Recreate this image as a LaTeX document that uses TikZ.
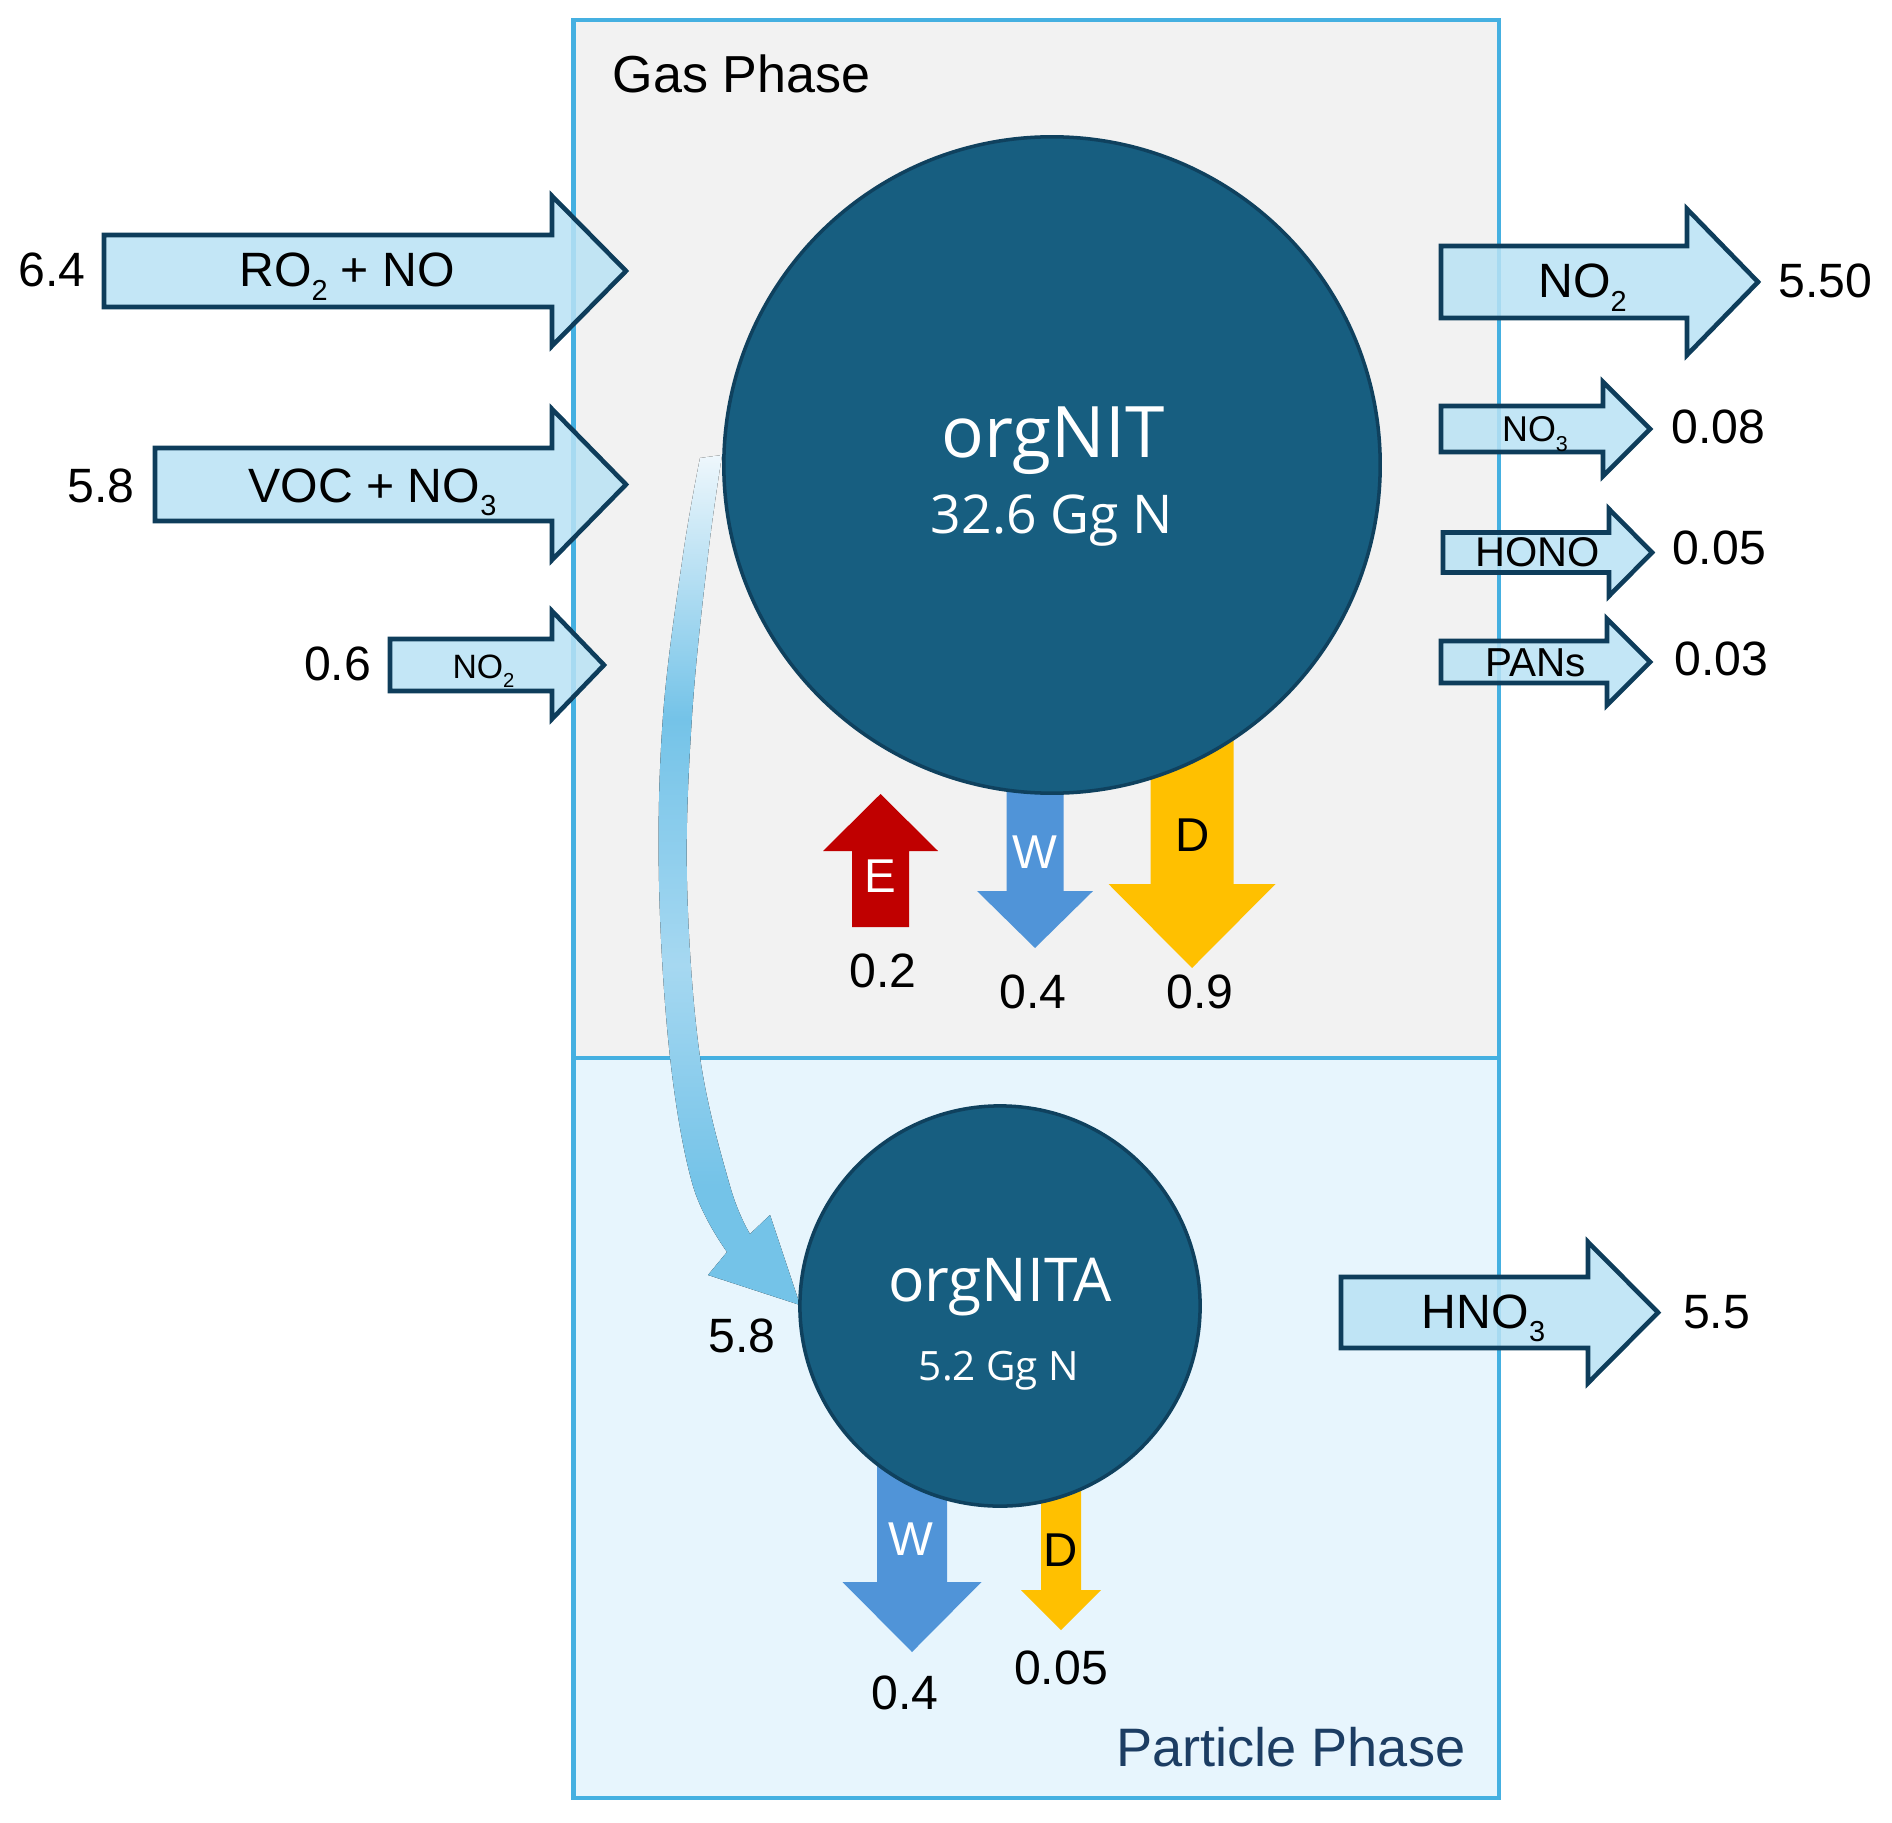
\documentclass[tikz,border=0pt]{standalone}
\usepackage{fontspec}
\setmainfont{Liberation Sans}
\newfontfamily\circfont{Open Sans}
\definecolor{gasbg}{HTML}{F2F2F2}
\definecolor{partbg}{HTML}{E7F5FD}
\definecolor{boxblue}{HTML}{45B0E1}
\definecolor{arrfill}{HTML}{B9E2F4}
\definecolor{arrline}{HTML}{0E3D5B}
\definecolor{circfill}{HTML}{175E80}
\definecolor{circline}{HTML}{0F415E}
\definecolor{ered}{HTML}{C00000}
\definecolor{wblue}{HTML}{5094D8}
\definecolor{dyel}{HTML}{FFC000}
\definecolor{ptext}{HTML}{1C3D63}
\definecolor{cA}{HTML}{74C3E8}
\definecolor{cB}{HTML}{A6D8F1}
\definecolor{cW}{HTML}{EEF7FC}
\pgfdeclareverticalshading{curvshade}{100bp}{color(0bp)=(cA); color(32bp)=(cA); color(45bp)=(cB); color(59.5bp)=(cA); color(75bp)=(cW); color(100bp)=(cW)}
\newcommand\chemsub[1]{\raisebox{-0.27em}{\scalebox{0.6}{#1}}}
% right-pointing block arrow: xleft, xbase, xtip, yc, bodyhalf, headhalf
\newcommand\myrarrow[6]{\draw[blockarrow] (#1,#4-#5) -- (#2,#4-#5) -- (#2,#4-#6) -- (#3,#4) -- (#2,#4+#6) -- (#2,#4+#5) -- (#1,#4+#5) -- cycle;}
% vertical arrow: xc, ystart, ybase, ytip, bodyhalf, headhalf, style
\newcommand\myvarrow[7]{\fill[#7] (#1-#5,#2) -- (#1+#5,#2) -- (#1+#5,#3) -- (#1+#6,#3) -- (#1,#4) -- (#1-#6,#3) -- (#1-#5,#3) -- cycle;}
\begin{document}
\begin{tikzpicture}[x=0.01cm,y=-0.01cm,
  blockarrow/.style={fill=arrfill, fill opacity=0.85, draw=arrline, line width=1.3pt, line join=miter},
  numlbl/.style={font=\fontsize{13.7}{16}\selectfont, inner sep=0pt, anchor=base},
  bigin/.style={numlbl},
  midin/.style={font=\fontsize{11.8}{14}\selectfont, inner sep=0pt, anchor=base},
  smallin/.style={font=\fontsize{9.6}{12}\selectfont, inner sep=0pt, anchor=base},
  flowlbl/.style={font=\fontsize{13.5}{16}\selectfont, inner sep=0pt, anchor=base},
  phaselbl/.style={font=\fontsize{14.8}{18}\selectfont, inner sep=0pt, anchor=base},
  pool/.style={circle, fill=circfill, draw=circline, line width=1pt, inner sep=0pt}]
\useasboundingbox (0,0) rectangle (1892,1822);
% phase backgrounds
\fill[gasbg] (573.5,20) rectangle (1499,1058);
\fill[partbg] (573.5,1058) rectangle (1499,1798);
\draw[boxblue, line width=1.4pt] (573.5,20) rectangle (1499,1798);
\draw[boxblue, line width=1.2pt] (573.5,1058) -- (1499,1058);
\node[phaselbl, anchor=base west] (gas) at (612,93) {Gas Phase};
\node[phaselbl, anchor=base east, text=ptext, font=\fontsize{15.4}{18}\selectfont] (part) at (1466,1766) {Particle Phase};
% partitioning arrow orgNIT -> orgNITA
\fill[shading=curvshade]
  plot[smooth, tension=0.6] coordinates {(700,458) (683,555) (663,716) (659,882) (670,1057) (693,1186) (727,1252)}
  -- (708,1275) -- (800,1305) -- (770,1215) -- (750,1234)
  -- plot[smooth, tension=0.6] coordinates {(750,1234) (730,1186) (700,1057) (687,882) (692,716) (708,555) (722,455)}
  -- cycle;
% loss / emission arrows
\myvarrow{1035}{700}{891}{948}{28.5}{58}{wblue}
\myvarrow{1192}{700}{884}{968}{41.5}{83.5}{dyel}
\myvarrow{880.5}{927}{851}{794}{28.5}{57.5}{ered}
\myvarrow{912}{1400}{1582}{1652}{35}{69.5}{wblue}
\myvarrow{1061}{1400}{1590}{1630}{20}{40}{dyel}
% pools
\node[pool, minimum size=6.56cm] (orgnit) at (1052,465) {};
\node[pool, minimum size=4.0cm] (orgnita) at (1000,1306) {};
\node[anchor=base, inner sep=0pt, text=white, font=\circfont\fontsize{20.2}{24}\selectfont] (orgnitname) at (1053,458) {orgNIT};
\node[anchor=base, inner sep=0pt, text=white, font=\circfont\fontsize{15.2}{18}\selectfont] (orgnitmass) at (1052,534) {32.6 Gg N};
\node[anchor=base, inner sep=0pt, text=white, font=\circfont\fontsize{17.2}{20}\selectfont] (orgnitaname) at (1000,1301) {orgNITA};
\node[anchor=base, inner sep=0pt, text=white, font=\circfont\fontsize{11.5}{14}\selectfont] (orgnitamass) at (999,1380) {5.2 Gg N};
% flow letters
\node[flowlbl, text=white] (e1) at (880,892) {E};
\node[flowlbl, text=white] (w1) at (1035,868) {W};
\node[flowlbl] (d1) at (1193,851) {D};
\node[flowlbl, text=white] (w2) at (911,1555) {W};
\node[flowlbl] (d2) at (1061,1566) {D};
\node[numlbl] (ve) at (883,987) {0.2};
\node[numlbl] (vw1) at (1033,1008) {0.4};
\node[numlbl] (vd1) at (1200,1008) {0.9};
\node[numlbl] (vw2) at (905,1709) {0.4};
\node[numlbl] (vd2) at (1061,1684) {0.05};
\node[numlbl] (vpart) at (742,1352) {5.8};
% inflow arrows
\myrarrow{104}{552}{626}{271}{36}{75}
\myrarrow{155}{552}{626}{484.5}{36.5}{75.5}
\myrarrow{390}{552}{604}{665}{26}{54}
\node[bigin] (ro2) at (347,287) {RO\chemsub{2} + NO};
\node[bigin] (voc) at (372.5,502) {VOC + NO\chemsub{3}};
\node[smallin] (no2in) at (483.5,678) {NO\chemsub{2}};
\node[numlbl] (v1) at (52,287) {6.4};
\node[numlbl] (v2) at (101,502) {5.8};
\node[numlbl] (v3) at (337.5,680) {0.6};
% outflow arrows
\myrarrow{1441}{1687}{1758}{282}{36}{73}
\myrarrow{1441}{1603}{1650}{429}{23}{47}
\myrarrow{1443}{1609}{1652}{552.5}{20}{43.5}
\myrarrow{1441}{1607}{1650}{662}{21}{43}
\myrarrow{1341}{1588}{1658}{1312.5}{35.5}{70.5}
\node[bigin] (no2out) at (1582.5,298) {NO\chemsub{2}};
\node[font=\fontsize{10.2}{12}\selectfont, inner sep=0pt, anchor=base] (no3out) at (1535,442) {NO\chemsub{3}};
\node[midin] (hono) at (1537.5,567) {HONO};
\node[font=\fontsize{11.5}{14}\selectfont, inner sep=0pt, anchor=base] (pans) at (1536,676) {PANs};
\node[bigin] (hno3) at (1483.5,1328) {HNO\chemsub{3}};
\node[numlbl] (o1) at (1825.5,298) {5.50};
\node[numlbl] (o2) at (1718.5,444) {0.08};
\node[numlbl] (o3) at (1719,564) {0.05};
\node[numlbl] (o4) at (1721.5,675) {0.03};
\node[numlbl] (o5) at (1716.5,1328) {5.5};
\end{tikzpicture}
\end{document}
